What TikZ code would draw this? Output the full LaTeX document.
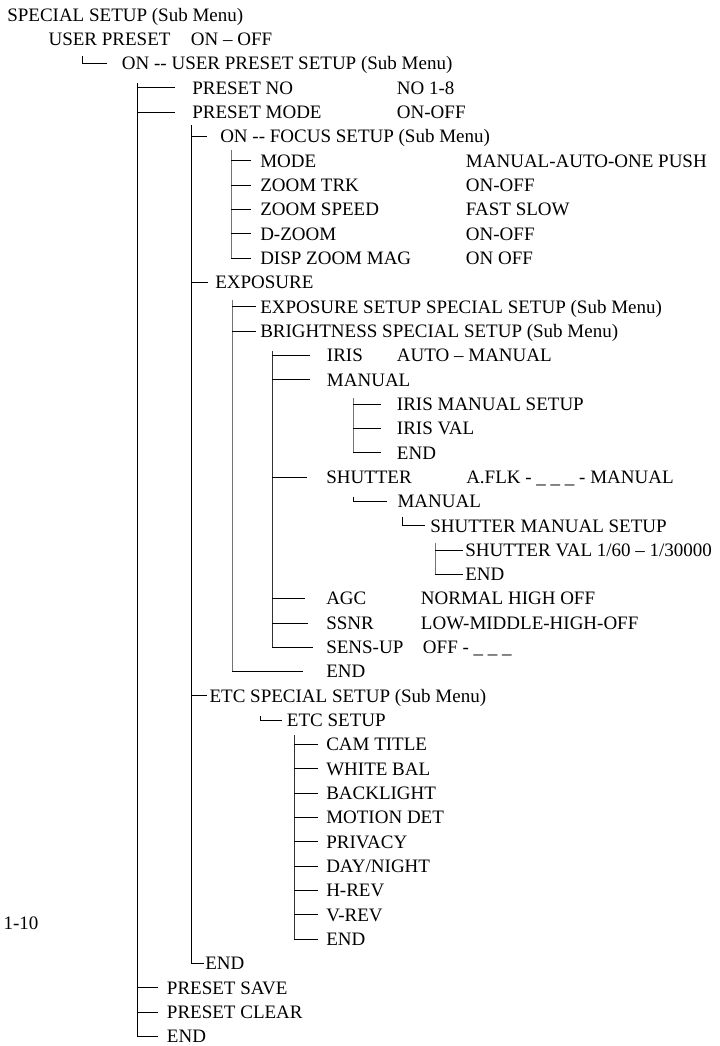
\documentclass[tikz,border=0pt]{standalone}
\usepackage{fontspec}
\setmainfont{Liberation Serif}
\newcommand\rowY[1]{21.3+24.32*#1}
\begin{document}
\begin{tikzpicture}[x=0.75pt,y=-0.75pt,
  lbl/.style={anchor=base west, inner sep=0pt, font=\fontsize{14.25pt}{17pt}\selectfont, text height=9.45pt, text depth=0pt},
  tree/.style={line width=0.75pt, black},
  gtree/.style={line width=0.75pt, black!55},
  dtree/.style={line width=0.75pt, black!80}]
\useasboundingbox (0,0) rectangle (719,1046);

% ---- labels ----
\node[lbl] (n0) at (7,{\rowY{0}}) {SPECIAL SETUP (Sub Menu)};
\node[lbl] (n1) at (48.3,{\rowY{1}}) {USER PRESET};
\node[lbl] (n1v) at (190.7,{\rowY{1}}) {ON – OFF};
\node[lbl] (n2) at (121.7,{\rowY{2}}) {ON -{}- USER PRESET SETUP (Sub Menu)};
\node[lbl] (n3) at (192,{\rowY{3}}) {PRESET NO};
\node[lbl] (n3v) at (396.7,{\rowY{3}}) {NO 1-8};
\node[lbl] (n4) at (192,{\rowY{4}}) {PRESET MODE};
\node[lbl] (n4v) at (396.7,{\rowY{4}}) {ON-OFF};
\node[lbl] (n5) at (220,{\rowY{5}}) {ON -{}- FOCUS SETUP (Sub Menu)};
\node[lbl] (n6) at (260,{\rowY{6}}) {MODE};
\node[lbl] (n6v) at (465.7,{\rowY{6}}) {MANUAL-AUTO-ONE PUSH};
\node[lbl] (n7) at (260,{\rowY{7}}) {ZOOM TRK};
\node[lbl] (n7v) at (465.7,{\rowY{7}}) {ON-OFF};
\node[lbl] (n8) at (260,{\rowY{8}}) {ZOOM SPEED};
\node[lbl] (n8v) at (465.7,{\rowY{8}}) {FAST SLOW};
\node[lbl] (n9) at (260,{\rowY{9}}) {D-ZOOM};
\node[lbl] (n9v) at (465.7,{\rowY{9}}) {ON-OFF};
\node[lbl] (n10) at (260,{\rowY{10}}) {DISP ZOOM MAG};
\node[lbl] (n10v) at (465.7,{\rowY{10}}) {ON OFF};
\node[lbl] (n11) at (215,{\rowY{11}}) {EXPOSURE};
\node[lbl] (n12) at (260,{\rowY{12}}) {EXPOSURE SETUP SPECIAL SETUP (Sub Menu)};
\node[lbl] (n13) at (260,{\rowY{13}}) {BRIGHTNESS SPECIAL SETUP (Sub Menu)};
\node[lbl] (n14) at (326.7,{\rowY{14}}) {IRIS};
\node[lbl] (n14v) at (396.7,{\rowY{14}}) {AUTO – MANUAL};
\node[lbl] (n15) at (326.7,{\rowY{15}}) {MANUAL};
\node[lbl] (n16) at (396.7,{\rowY{16}}) {IRIS MANUAL SETUP};
\node[lbl] (n17) at (396.7,{\rowY{17}}) {IRIS VAL};
\node[lbl] (n18) at (396.7,{\rowY{18}}) {END};
\node[lbl] (n19) at (326,{\rowY{19}}) {SHUTTER};
\node[lbl] (n19v) at (466,{\rowY{19}}) {A.FLK - \_ \_ \_ - MANUAL};
\node[lbl] (n20) at (397.3,{\rowY{20}}) {MANUAL};
\node[lbl] (n21) at (430,{\rowY{21}}) {SHUTTER MANUAL SETUP};
\node[lbl] (n22) at (465,{\rowY{22}}) {SHUTTER VAL 1/60 – 1/30000};
\node[lbl] (n23) at (465,{\rowY{23}}) {END};
\node[lbl] (n24) at (326,{\rowY{24}}) {AGC};
\node[lbl] (n24v) at (420.7,{\rowY{24}}) {NORMAL HIGH OFF};
\node[lbl] (n25) at (326,{\rowY{25}}) {SSNR};
\node[lbl] (n25v) at (420.7,{\rowY{25}}) {LOW-MIDDLE-HIGH-OFF};
\node[lbl] (n26) at (326,{\rowY{26}}) {SENS-UP};
\node[lbl] (n26v) at (422.7,{\rowY{26}}) {OFF - \_ \_ \_};
\node[lbl] (n27) at (326,{\rowY{27}}) {END};
\node[lbl] (n28) at (209.3,{\rowY{28}}) {ETC SPECIAL SETUP (Sub Menu)};
\node[lbl] (n29) at (286.7,{\rowY{29}}) {ETC SETUP};
\node[lbl] (n30) at (326,{\rowY{30}}) {CAM TITLE};
\node[lbl] (n31) at (326,{\rowY{31}}) {WHITE BAL};
\node[lbl] (n32) at (326,{\rowY{32}}) {BACKLIGHT};
\node[lbl] (n33) at (326,{\rowY{33}}) {MOTION DET};
\node[lbl] (n34) at (326,{\rowY{34}}) {PRIVACY};
\node[lbl] (n35) at (326,{\rowY{35}}) {DAY/NIGHT};
\node[lbl] (n36) at (326,{\rowY{36}}) {H-REV};
\node[lbl] (n37) at (326,{\rowY{37}}) {V-REV};
\node[lbl] (n38) at (326,{\rowY{38}}) {END};
\node[lbl] (n39) at (205,{\rowY{39}}) {END};
\node[lbl] (n40) at (166.7,{\rowY{40}}) {PRESET SAVE};
\node[lbl] (n41) at (166.7,{\rowY{41}}) {PRESET CLEAR};
\node[lbl] (n42) at (166.7,{\rowY{42}}) {END};
\node[lbl] (pg) at (3.3,929.5) {1-10};

% ---- tree lines ----
\coordinate (g2) at (82.7,56);
\draw[tree] (g2) -- (g2 |- n2.west) -- (106.7,0 |- n2.west);

\coordinate (v1) at (137.3,83.3);
\draw[tree] (v1) -- (v1 |- n42.west) -- (158.3,0 |- n42.west);
\foreach \n/\e in {n3/175,n4/175,n40/158.3,n41/158.3}
  \draw[tree] (v1 |- \n.west) -- (\e,0 |- \n.west);

\coordinate (v2) at (191,125);
\draw[tree] (v2) -- (v2 |- n39.west) -- (204,0 |- n39.west);
\foreach \n/\e in {n5/207.3,n11/208.3,n28/207.3}
  \draw[tree] (v2 |- \n.west) -- (\e,0 |- \n.west);

\coordinate (vf) at (231,150);
\draw[gtree] (vf) -- (vf |- n10.west);
\foreach \n in {n6,n7,n8,n9,n10}
  \draw[tree] (vf |- \n.west) -- (250.7,0 |- \n.west);

\coordinate (ve) at (232,300);
\draw[gtree] (ve) -- (ve |- n27.west);
\foreach \n/\e in {n12/256,n13/256,n27/302.5}
  \draw[tree] (ve |- \n.west) -- (\e,0 |- \n.west);

\coordinate (vi) at (272.3,351);
\draw[dtree] (vi) -- (vi |- n26.west);
\foreach \n/\e in {n14/310,n15/310,n19/306.7,n24/305,n25/308,n26/313}
  \draw[tree] (vi |- \n.west) -- (\e,0 |- \n.west);

\coordinate (vim) at (353.3,398);
\draw[gtree] (vim) -- (vim |- n18.west);
\foreach \n in {n16,n17,n18}
  \draw[tree] (vim |- \n.west) -- (381,0 |- \n.west);

\coordinate (g20) at (353.3,497);
\draw[tree] (g20) -- (g20 |- n20.west) -- (386.7,0 |- n20.west);
\coordinate (g21) at (402.3,516.7);
\draw[tree] (g21) -- (g21 |- n21.west) -- (425,0 |- n21.west);

\coordinate (vs) at (435,542.7);
\draw[gtree] (vs) -- (vs |- n23.west);
\foreach \n in {n22,n23}
  \draw[tree] (vs |- \n.west) -- (463.3,0 |- \n.west);

\coordinate (g29) at (260,716);
\draw[tree] (g29) -- (g29 |- n29.west) -- (281.7,0 |- n29.west);

\coordinate (vt) at (294,735);
\draw[dtree] (vt) -- (vt |- n38.west);
\foreach \n in {n30,n31,n32,n33,n34,n35,n36,n37,n38}
  \draw[tree] (vt |- \n.west) -- (318,0 |- \n.west);
\end{tikzpicture}
\end{document}
